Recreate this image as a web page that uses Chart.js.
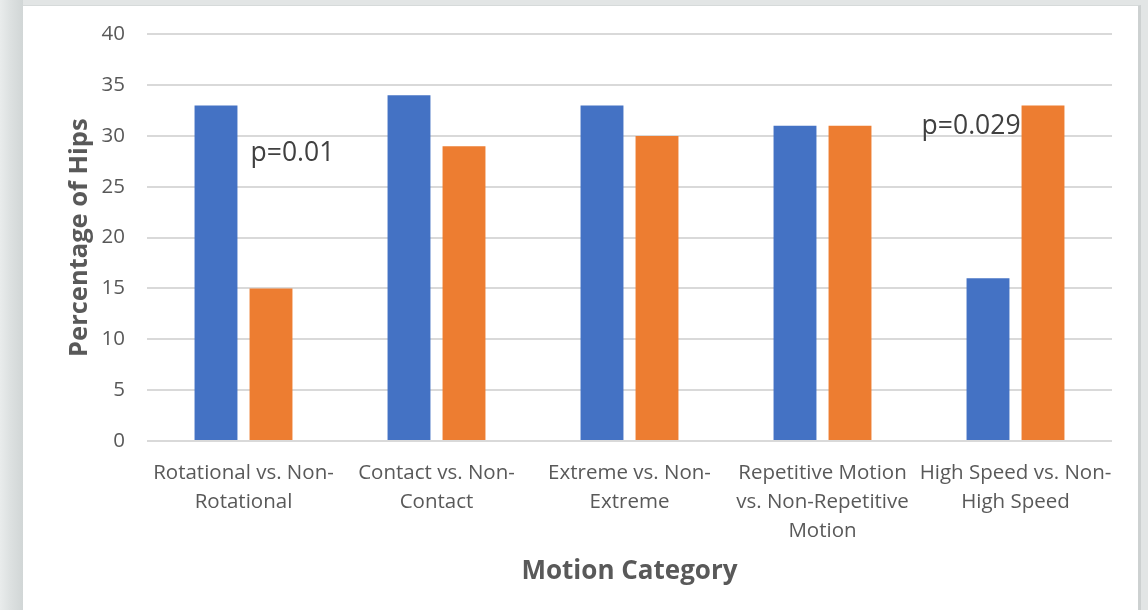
<!DOCTYPE html>
<html>
<head>
<meta charset="utf-8">
<script src="https://cdn.jsdelivr.net/npm/chart.js@4.4.1/dist/chart.umd.min.js"></script>
<style>
  html, body { margin: 0; padding: 0; }
  body {
    width: 1148px; height: 610px; overflow: hidden; position: relative;
    background: #e2e5e5;
  }
  #leftStrip {
    position: absolute; left: 0; top: 0; width: 23px; height: 610px;
    background: linear-gradient(to right, #e9ecec 0px, #dde1e1 10px, #d1d6d6 23px);
  }
  #panel {
    position: absolute; left: 23px; top: 5px; width: 1115px; height: 605px;
    background: #ffffff;
    border-right: 3px solid #cdd1d1;
    border-top: 1px solid #d6dada;
  }
  #wrap { position: absolute; left: 0; top: 0; width: 1148px; height: 610px; }
</style>
</head>
<body>
<div id="leftStrip"></div>
<div id="panel"></div>
<div id="wrap"><canvas id="chart" width="1148" height="610"></canvas></div>
<script>
// Motion categories (multi-line labels)
const categories = [
  ['Rotational vs. Non-', 'Rotational'],
  ['Contact vs. Non-', 'Contact'],
  ['Extreme vs. Non-', 'Extreme'],
  ['Repetitive Motion', 'vs. Non-Repetitive', 'Motion'],
  ['High Speed vs. Non-', 'High Speed']
];
// Percentage of hips for the motion type and its complement
const motionValues = [33, 34, 33, 31, 16];
const nonMotionValues = [15, 29, 30, 31, 33];
// Significance notes: text, category index, height on the value axis
const pLabels = ['p=0.01', 'p=0.029'];
const pCategory = [0, 4];
const pValue = [28.3, 30.9];
const pSide = ['right', 'left'];

const textGray = '#595959';
const fontFamily = '"Open Sans", Lato, sans-serif';

// Writes the p-value notes beside the orange bars
const pNotes = {
  id: 'pNotes',
  afterDatasetsDraw(chart) {
    const ctx = chart.ctx;
    const meta = chart.getDatasetMeta(1);
    const y = chart.scales.y;
    ctx.save();
    ctx.font = '26.5px ' + fontFamily;
    ctx.fillStyle = '#404040';
    ctx.textBaseline = 'middle';
    pLabels.forEach((txt, i) => {
      const bar = meta.data[pCategory[i]];
      const left = bar.x - bar.width / 2;
      const py = y.getPixelForValue(pValue[i]);
      if (pSide[i] === 'right') {
        ctx.textAlign = 'left';
        ctx.fillText(txt, left + 1, py);
      } else {
        ctx.textAlign = 'right';
        ctx.fillText(txt, left - 1, py);
      }
    });
    ctx.restore();
  }
};

new Chart(document.getElementById('chart'), {
  type: 'bar',
  data: {
    labels: categories,
    datasets: [
      { label: 'Motion', data: motionValues, backgroundColor: '#4472C4',
        categoryPercentage: 0.57, barPercentage: 0.78 },
      { label: 'Non-Motion', data: nonMotionValues, backgroundColor: '#ED7D31',
        categoryPercentage: 0.57, barPercentage: 0.78 }
    ]
  },
  options: {
    responsive: false,
    animation: false,
    layout: { padding: { left: 64, right: 36, top: 32, bottom: 0 } },
    plugins: {
      legend: { display: false },
      tooltip: { enabled: false }
    },
    scales: {
      x: {
        grid: { display: false },
        border: { display: false },
        ticks: {
          color: textGray, padding: 10, maxRotation: 0, autoSkip: false,
          font: { family: fontFamily, size: 20.5, lineHeight: 1.41 }
        },
        title: {
          display: true, text: 'Motion Category', color: textGray,
          font: { family: fontFamily, size: 26, weight: 'bold', lineHeight: 1.2 },
          padding: { top: 0, bottom: 23 }
        },
        afterFit(scale) { scale.height = 169; }
      },
      y: {
        min: 0, max: 40,
        ticks: {
          stepSize: 5, color: textGray, padding: 22,
          font: { family: fontFamily, size: 20.5 }
        },
        grid: { color: '#d9d9d9', lineWidth: 2, drawTicks: false },
        border: { display: false },
        title: {
          display: true, text: 'Percentage of Hips', color: textGray,
          font: { family: fontFamily, size: 25.5, weight: 'bold', lineHeight: 1.2 },
          padding: { top: 0, bottom: 0 }
        },
        afterFit(scale) { scale.width = 83; }
      }
    }
  },
  plugins: [pNotes]
});
</script>
</body>
</html>
